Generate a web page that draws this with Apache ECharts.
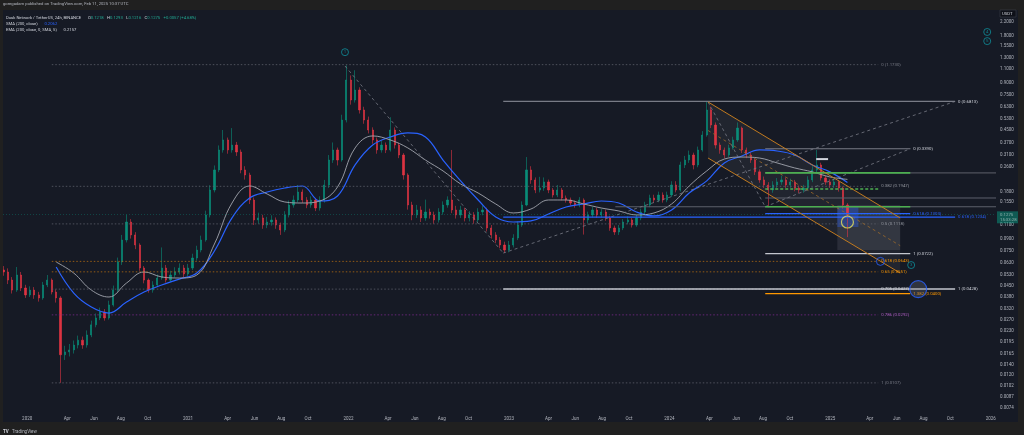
<!DOCTYPE html>
<html>
<head>
<meta charset="utf-8">
<script src="https://cdn.jsdelivr.net/npm/echarts@6.0.0/dist/echarts.min.js"></script>
<style>
html,body{margin:0;padding:0;background:#202020;overflow:hidden;}
#chart{width:1024px;height:435px;}
</style>
</head>
<body>
<div id="chart"></div>
<script>
// ---------------- DATA ----------------
const candleStart = '2019-11-08';
const candleStepDays = 10;
const opens = [
0.0566,0.0550,0.0488,0.0421,0.0526,0.0434,0.0392,0.0421,0.0392,0.0375,
0.0454,0.0488,0.0409,0.0375,0.0162,0.0169,0.0174,0.0187,0.0201,0.0187,
0.0217,0.0252,0.0279,0.0305,0.0279,0.0338,0.0421,0.0637,0.0882,0.1150,
0.0950,0.0819,0.0583,0.0488,0.0421,0.0454,0.0503,0.0583,0.0488,0.0526,
0.0550,0.0583,0.0534,0.0583,0.0676,0.0760,0.0882,0.1276,0.1844,0.248,
0.333,0.386,0.333,0.358,0.323,0.248,0.230,0.1591,0.1185,0.1221,
0.1100,0.1150,0.1185,0.1100,0.1022,0.1276,0.1478,0.1591,0.1790,0.1591,
0.1478,0.1591,0.1414,0.1591,0.1986,0.287,0.333,0.287,0.518,0.935,
0.696,0.807,0.601,0.518,0.447,0.386,0.333,0.358,0.333,0.447,
0.358,0.309,0.230,0.1478,0.1276,0.1373,0.1221,0.1333,0.1276,0.1185,
0.1333,0.1478,0.1591,0.1373,0.1276,0.1373,0.1221,0.1276,0.1185,0.1333,
0.1373,0.1053,0.0950,0.0882,0.0819,0.0760,0.0819,0.0908,0.1100,0.1478,
0.248,0.214,0.1844,0.1899,0.2078,0.1844,0.1713,0.1844,0.1639,0.1591,
0.1522,0.1478,0.1591,0.1185,0.1276,0.1373,0.1276,0.1333,0.1221,0.1053,
0.0992,0.1053,0.1150,0.1185,0.1100,0.1221,0.1333,0.1478,0.1639,0.1591,
0.1713,0.1591,0.1713,0.1986,0.1844,0.267,0.287,0.309,0.267,0.333,
0.415,0.601,0.481,0.358,0.333,0.309,0.343,0.386,0.460,0.333,
0.309,0.287,0.241,0.214,0.1986,0.1844,0.1986,0.2078,0.214,0.1986,
0.2078,0.1899,0.1844,0.1899,0.214,0.248,0.267,0.2204,0.2078,0.1986,
0.2078,0.1899,0.1478];
const closes = [
0.0550,0.0488,0.0421,0.0526,0.0434,0.0392,0.0421,0.0392,0.0375,0.0454,
0.0488,0.0409,0.0375,0.0162,0.0169,0.0174,0.0187,0.0201,0.0187,0.0217,
0.0252,0.0279,0.0305,0.0279,0.0338,0.0421,0.0637,0.0882,0.1150,0.0950,
0.0819,0.0583,0.0488,0.0421,0.0454,0.0503,0.0583,0.0488,0.0526,0.0550,
0.0583,0.0534,0.0583,0.0676,0.0760,0.0882,0.1276,0.1844,0.248,0.333,
0.386,0.333,0.358,0.323,0.248,0.230,0.1591,0.1185,0.1221,0.1100,
0.1150,0.1185,0.1100,0.1022,0.1276,0.1478,0.1591,0.1790,0.1591,0.1478,
0.1591,0.1414,0.1591,0.1986,0.287,0.333,0.287,0.518,0.935,0.696,
0.807,0.601,0.518,0.447,0.386,0.333,0.358,0.333,0.447,0.358,
0.309,0.230,0.1478,0.1276,0.1373,0.1221,0.1333,0.1276,0.1185,0.1333,
0.1478,0.1591,0.1373,0.1276,0.1373,0.1221,0.1276,0.1185,0.1333,0.1373,
0.1053,0.0950,0.0882,0.0819,0.0760,0.0819,0.0908,0.1100,0.1478,0.248,
0.214,0.1844,0.1899,0.2078,0.1844,0.1713,0.1844,0.1639,0.1591,0.1522,
0.1478,0.1591,0.1185,0.1276,0.1373,0.1276,0.1333,0.1221,0.1053,0.0992,
0.1053,0.1150,0.1185,0.1100,0.1221,0.1333,0.1478,0.1639,0.1591,0.1713,
0.1591,0.1713,0.1986,0.1844,0.267,0.287,0.309,0.267,0.333,0.415,
0.601,0.481,0.358,0.333,0.309,0.343,0.386,0.460,0.333,0.309,
0.287,0.241,0.214,0.1986,0.1844,0.1986,0.2078,0.214,0.1986,0.2078,
0.1899,0.1844,0.1899,0.214,0.248,0.267,0.2204,0.2078,0.1986,0.2078,
0.1899,0.1478,0.1275];
const highs = [
0.0600,0.0580,0.0510,0.0592,0.0550,0.0455,0.0445,0.0440,0.0410,0.0475,
0.0526,0.0500,0.0425,0.0385,0.0185,0.0190,0.0200,0.0215,0.0212,0.0232,
0.0268,0.0298,0.0325,0.0318,0.0360,0.0450,0.0680,0.0950,0.1280,0.1200,
0.0990,0.0840,0.0600,0.0500,0.0480,0.0530,0.0790,0.0610,0.0560,0.0590,
0.0625,0.0610,0.0620,0.0720,0.0810,0.0940,0.1360,0.1980,0.265,0.356,
0.447,0.400,0.460,0.375,0.335,0.262,0.238,0.165,0.132,0.128,
0.124,0.127,0.123,0.114,0.135,0.158,0.170,0.1986,0.186,0.166,
0.168,0.164,0.168,0.214,0.309,0.372,0.345,0.560,1.16,1.00,
1.08,0.840,0.630,0.545,0.465,0.400,0.380,0.372,0.540,0.465,
0.370,0.318,0.236,0.155,0.148,0.145,0.160,0.140,0.134,0.141,
0.156,0.168,0.333,0.146,0.146,0.142,0.135,0.133,0.141,0.147,
0.142,0.110,0.099,0.092,0.086,0.087,0.096,0.116,0.156,0.300,
0.262,0.222,0.224,0.222,0.215,0.190,0.1986,0.190,0.170,0.165,
0.158,0.166,0.163,0.134,0.144,0.142,0.139,0.138,0.126,0.109,
0.110,0.120,0.125,0.122,0.128,0.140,0.155,0.172,0.172,0.180,
0.178,0.180,0.210,0.210,0.280,0.305,0.330,0.320,0.350,0.440,
0.681,0.630,0.500,0.372,0.345,0.360,0.405,0.500,0.470,0.345,
0.322,0.295,0.250,0.225,0.207,0.210,0.220,0.228,0.222,0.218,
0.214,0.197,0.199,0.226,0.262,0.333,0.276,0.228,0.216,0.218,
0.214,0.194,0.152];
const lows = [
0.0520,0.0460,0.0400,0.0410,0.0415,0.0375,0.0380,0.0370,0.0355,0.0365,
0.0440,0.0395,0.0350,0.0107,0.0150,0.0158,0.0165,0.0178,0.0177,0.0180,
0.0210,0.0243,0.0270,0.0268,0.0272,0.0330,0.0410,0.0610,0.0850,0.0900,
0.0770,0.0560,0.0465,0.0405,0.0405,0.0440,0.0490,0.0470,0.0475,0.0505,
0.0530,0.0510,0.0515,0.0565,0.0650,0.0735,0.0860,0.1230,0.178,0.240,
0.320,0.315,0.320,0.305,0.236,0.215,0.150,0.110,0.112,0.104,
0.105,0.109,0.104,0.095,0.099,0.123,0.142,0.153,0.152,0.141,
0.142,0.135,0.136,0.153,0.190,0.275,0.265,0.280,0.500,0.650,
0.670,0.570,0.490,0.425,0.365,0.315,0.320,0.318,0.325,0.340,
0.295,0.215,0.138,0.118,0.122,0.115,0.117,0.121,0.112,0.114,
0.128,0.142,0.131,0.121,0.122,0.116,0.116,0.112,0.114,0.127,
0.100,0.090,0.084,0.078,0.0727,0.0735,0.079,0.088,0.107,0.145,
0.202,0.176,0.178,0.182,0.176,0.165,0.166,0.158,0.153,0.147,
0.142,0.143,0.0955,0.113,0.123,0.122,0.123,0.117,0.101,0.095,
0.095,0.102,0.111,0.106,0.107,0.118,0.129,0.143,0.153,0.154,
0.153,0.154,0.166,0.178,0.180,0.255,0.275,0.250,0.258,0.325,
0.405,0.460,0.340,0.315,0.295,0.300,0.335,0.375,0.318,0.295,
0.275,0.230,0.205,0.190,0.143,0.177,0.190,0.199,0.190,0.190,
0.181,0.176,0.177,0.183,0.207,0.240,0.212,0.199,0.190,0.190,
0.180,0.140,0.0920];

// moving averages sampled on every 4th candle
const maEveryNthCandle = 4;
const sma200 = [null,null,null,0.0592,0.0403,0.0328,0.0300,0.0353,0.0409,0.0454,
 0.0495,0.0541,0.0749,0.1221,0.1639,0.1790,0.1899,0.1956,0.1568,0.1688,
 0.267,0.358,0.403,0.428,0.403,0.287,0.2109,0.1591,0.1239,0.1150,
 0.1168,0.1295,0.1435,0.1500,0.1568,0.1522,0.1333,0.1257,0.1373,0.1764,
 0.2109,0.275,0.3045,0.333,0.328,0.309,0.267,0.241,0.2062];
const ema200 = [null,null,null,0.0637,0.0541,0.0421,0.0380,0.0467,0.0550,0.0511,
 0.0503,0.0526,0.0831,0.1522,0.1956,0.1738,0.1545,0.1522,0.1568,0.1928,
 0.343,0.4095,0.386,0.343,0.287,0.2444,0.2016,0.1764,0.1500,0.1314,
 0.1393,0.1591,0.1591,0.1500,0.1414,0.1353,0.1276,0.1314,0.1500,0.1956,
 0.2444,0.2913,0.2999,0.2956,0.275,0.2554,0.241,0.2237,0.2157];

const lastPrice = 0.1275, lastSma = 0.2062, lastEma = 0.2157;

// axes
const priceTicks = [2.2,1.8,1.55,1.3,1.1,0.9,0.75,0.63,0.53,0.45,0.37,0.31,0.26,0.18,0.155,
  0.11,0.09,0.075,0.063,0.053,0.045,0.038,0.032,0.027,0.023,0.0195,0.0165,0.014,0.012,0.0102,0.0087,0.0074];
const timeTickDates = ['2020-01-01','2020-04-01','2020-06-01','2020-08-01','2020-10-01',
  '2021-01-01','2021-04-01','2021-06-01','2021-08-01','2021-10-01',
  '2022-01-01','2022-04-01','2022-06-01','2022-08-01','2022-10-01',
  '2023-01-01','2023-04-01','2023-06-01','2023-08-01','2023-10-01',
  '2024-01-01','2024-04-01','2024-06-01','2024-08-01','2024-10-01',
  '2025-01-01','2025-04-01','2025-06-01','2025-08-01','2025-10-01','2026-01-01'];
const timeTickLabels = ['2020','Apr','Jun','Aug','Oct','2021','Apr','Jun','Aug','Oct',
  '2022','Apr','Jun','Aug','Oct','2023','Apr','Jun','Aug','Oct',
  '2024','Apr','Jun','Aug','Oct','2025','Apr','Jun','Aug','Oct','2026'];
const axisStart = '2019-11-07', axisEnd = '2026-01-13';

// drawing: fib retracement (dotted)
const retrFrom = '2020-02-26', retrTo = '2025-04-20';
const retrLevels = [1.1730, 0.1947, 0.1118, 0.0643, 0.0551, 0.0427, 0.0292, 0.0107];
const retrLabels = ['0 (1.1730)','0.382 (0.1947)','0.5 (0.1118)','0.618 (0.0643)','0.65 (0.0551)','0.705 (0.0427)','0.786 (0.0292)','1 (0.0107)'];
// drawing: trend-based fib extension A
const extAPath = [['2021-12-24',1.15],['2022-12-19',0.0727],['2025-10-12',0.6813]];
const extAFrom = '2022-12-19', extATo = '2025-10-12';
const extALevels = [0.6813, 0.1234, 0.0428];
const extALabels = ['0 (0.6813)','0.618 (0.1234)','1 (0.0428)'];
// drawing: trend-based fib extension B
const extBPath = [['2024-03-29',0.676],['2024-08-06',0.1440],['2025-07-02',0.3390]];
const extBFrom = '2024-08-06', extBTo = '2025-07-02';
const extBLevels = [0.3390, 0.1303, 0.0722, 0.0400];
const extBLabels = ['0 (0.3390)','0.618 (0.1303)','1 (0.0722)','1.382 (0.0400)'];
// horizontal rays
const rayStarts = ['2024-08-06','2024-08-06','2023-08-31'];
const rayLevels = [0.2373, 0.1639, 0.1440];
// green range
const rangeFrom = '2024-08-06', rangeTo = '2025-07-02', rangeMidTo = '2025-04-20';
const rangeLevels = [0.2373, 0.1440];
const rangeMid = 0.1871;
// parallel channel
const channelUpper = [['2024-03-29',0.676],['2025-06-09',0.1221]];
const channelMid = [['2024-03-29',0.4437],['2025-06-09',0.0811]];
const channelLower = [['2024-03-29',0.2956],['2025-06-09',0.0541]];
// boxes
const projBox = [['2025-01-17',0.1478],['2025-06-09',0.0760]];
const focusBox = [['2025-01-17',0.1439],['2025-03-06',0.1068]];
const smallMark = [['2024-11-30',0.291],['2024-12-27',0.291]];
// rings and numbered markers
const ringYellow = ['2025-02-09',0.115];
const ringBlueSmall = ['2025-04-25',0.0643];
const ringBlueBig = ['2025-07-20',0.0427];
const waveMarks = [['2021-12-24',1.41,'1'],['2025-07-04',0.0609,'3'],['2025-12-24',1.90,'4'],['2025-12-24',1.66,'5']];

// ---------------- BUILD ----------------
const DAY = 86400000;
const T = s => Date.UTC(+s.slice(0,4), +s.slice(5,7)-1, +s.slice(8,10));
const L = v => Math.log10(v);
const P = (d, v) => [T(d), L(v)];
const t0 = T(candleStart);
const candleData = closes.map((c, i) => [t0 + i*candleStepDays*DAY, L(opens[i]), L(c), L(lows[i]), L(highs[i])]);
const maData = arr => arr.map((v, k) => v == null ? null : [t0 + k*maEveryNthCandle*candleStepDays*DAY, L(v)]).filter(x => x);
const tickLabelMap = {};
timeTickDates.forEach((d, i) => tickLabelMap[T(d)] = timeTickLabels[i]);

const FONT = 'Roboto, "Liberation Sans", sans-serif';
const series = [];
function seg(points, style, endText, endColor, z) {
  const s = {type:'line', data: points.map(p => P(p[0], p[1])), symbol:'none', silent:true,
    animation:false, z: z || 4, lineStyle: style};
  if (endText) s.endLabel = {show:true, formatter:endText, color:endColor, fontSize:4.3, fontFamily:FONT, distance:3};
  series.push(s);
}

// candles
series.push({type:'candlestick', data:candleData, barWidth:1.7, z:2, silent:true, animation:false,
  itemStyle:{color:'#089981', color0:'#f23645', borderColor:'#089981', borderColor0:'#f23645', borderWidth:0.6, opacity:0.9},
  markLine:{silent:true, symbol:['none','none'], animation:false,
    data:[{yAxis:L(lastPrice), lineStyle:{color:'#089981', type:[1,2], width:0.7, opacity:0.5},
      label:{show:true, position:'end', distance:1, formatter:'0.1275\n15:33:28', color:'#fff', backgroundColor:'#089981',
        fontSize:4.3, lineHeight:5, fontFamily:FONT, padding:[1,4,1,3], offset:[0,3]}}]}});
// MAs
series.push({type:'line', data:maData(sma200), smooth:0.4, symbol:'none', silent:true, animation:false, z:3,
  lineStyle:{color:'#2962ff', width:1.2},
  markLine:{silent:true, symbol:['none','none'], animation:false,
    data:[{yAxis:L(lastSma), lineStyle:{opacity:0}, label:{show:true, position:'end', distance:1, formatter:'0.2062',
      color:'#fff', backgroundColor:'#2962ff', fontSize:4.3, fontFamily:FONT, padding:[1,5,1,3], offset:[0,2]}}]}});
series.push({type:'line', data:maData(ema200), smooth:0.4, symbol:'none', silent:true, animation:false, z:3,
  lineStyle:{color:'#a3a6af', width:0.9},
  markLine:{silent:true, symbol:['none','none'], animation:false,
    data:[{yAxis:L(lastEma), lineStyle:{opacity:0}, label:{show:true, position:'end', distance:1, formatter:'0.2157',
      color:'#131722', backgroundColor:'#d1d4e6', fontSize:4.3, fontFamily:FONT, padding:[1,5,1,3], offset:[0,-2]}}]}});

// channel shading + boxes
series.push({type:'custom', silent:true, animation:false, z:1, data:[0],
  renderItem:(params, api) => {
    const poly = [channelUpper[0], channelUpper[1], channelLower[1], channelLower[0]].map(p => api.coord(P(p[0], p[1])));
    const pb = projBox.map(p => api.coord(P(p[0], p[1])));
    const fb = focusBox.map(p => api.coord(P(p[0], p[1])));
    return {type:'group', children:[
      {type:'polygon', shape:{points:poly}, style:{fill:'rgba(178,181,190,0.07)'}},
      {type:'rect', shape:{x:pb[0][0], y:pb[0][1], width:pb[1][0]-pb[0][0], height:pb[1][1]-pb[0][1]}, style:{fill:'rgba(178,181,190,0.13)'}},
      {type:'rect', shape:{x:fb[0][0], y:fb[0][1], width:fb[1][0]-fb[0][0], height:fb[1][1]-fb[0][1]}, style:{fill:'rgba(41,98,255,0.35)'}}
    ]};
  }});

// fib retracement dotted
const retrColors = ['#5d606b','#5d606b','#5d606b','#b36b12','#b36b12','#5d606b','#7b2a8c','#5d606b'];
const retrText = ['#787b86','#9598a1','#9598a1','#ff9800','#ff9800','#d1d4dc','#b35fc7','#787b86'];
retrLevels.forEach((v, i) => seg([[retrFrom, v],[retrTo, v]], {color:retrColors[i], width:0.8, type:[1.5,2]}, retrLabels[i], retrText[i]));
// ext A
seg(extAPath.slice(0,2), {color:'#787b86', width:0.8, type:[3,3]});
seg(extAPath.slice(1,3), {color:'#787b86', width:0.8, type:[3,3]});
const extAColors = ['#787b86','#2962ff','#c3c6ce'];
const extAWidths = [1.2, 1.2, 1.6];
extALevels.forEach((v, i) => seg([[extAFrom, v],[extATo, v]], {color:extAColors[i], width:extAWidths[i]}, extALabels[i], i===1?'#2962ff':'#d1d4dc'));
// ext B
seg(extBPath.slice(0,2), {color:'#787b86', width:0.8, type:[3,3]});
seg(extBPath.slice(1,3), {color:'#787b86', width:0.8, type:[3,3]});
const extBColors = ['#787b86','#2962ff','#c3c6ce','#ff9800'];
extBLevels.forEach((v, i) => seg([[extBFrom, v],[extBTo, v]], {color:extBColors[i], width:1.2}, extBLabels[i], i===1?'#2962ff':(i===3?'#ff9800':'#d1d4dc')));
// rays
rayLevels.forEach((v, i) => seg([[rayStarts[i], v],[axisEnd, v]], {color:'#5d606b', width:1}, null, null, 3));
// green range
rangeLevels.forEach(v => seg([[rangeFrom, v],[rangeTo, v]], {color:'#4caf50', width:1.6}));
seg([[rangeFrom, rangeMid],[rangeMidTo, rangeMid]], {color:'#4caf50', width:1.5, type:[3,2]});
// channel lines
seg(channelUpper, {color:'#c17a1f', width:1});
seg(channelLower, {color:'#c17a1f', width:1});
seg(channelMid, {color:'#9c6a2a', width:0.8, type:[3,3]});
seg(smallMark, {color:'#d1d4dc', width:2});
// rings
series.push({type:'scatter', silent:true, animation:false, z:6, data:[P(ringYellow[0], ringYellow[1])], symbolSize:12,
  itemStyle:{color:'rgba(0,0,0,0)', borderColor:'#e8e35a', borderWidth:1.2}});
series.push({type:'scatter', silent:true, animation:false, z:6, data:[P(ringBlueSmall[0], ringBlueSmall[1])], symbolSize:8,
  itemStyle:{color:'rgba(0,0,0,0)', borderColor:'#2962ff', borderWidth:1}});
series.push({type:'scatter', silent:true, animation:false, z:6, data:[P(ringBlueBig[0], ringBlueBig[1])], symbolSize:17,
  itemStyle:{color:'rgba(120,123,134,0.35)', borderColor:'#2962ff', borderWidth:1.2}});
series.push({type:'scatter', silent:true, animation:false, z:6, symbolSize:7,
  data: waveMarks.map(m => ({value:P(m[0], m[1]), label:{show:true, formatter:m[2]}})),
  itemStyle:{color:'rgba(0,0,0,0)', borderColor:'#0e9aa7', borderWidth:0.9},
  label:{position:'inside', color:'#0e9aa7', fontSize:4.3, fontFamily:FONT}});

const option = {
  backgroundColor:'#161a25',
  animation:false,
  grid:{left:3, right:28, top:10, bottom:23},
  xAxis:{type:'value', min:T(axisStart), max:T(axisEnd),
    axisLine:{show:false}, axisTick:{show:false}, splitLine:{show:false},
    axisLabel:{customValues:timeTickDates.map(T), formatter:v => tickLabelMap[v] || '', color:'#b2b5be', fontSize:4.5, fontFamily:FONT, margin:4}},
  yAxis:{type:'value', position:'right', min:-2.1573, max:0.4196,
    axisLine:{show:false}, axisTick:{show:false}, splitLine:{show:false},
    axisLabel:{customValues:priceTicks.map(L), formatter:v => Math.pow(10, v).toFixed(4), color:'#b2b5be', fontSize:4.5, fontFamily:FONT, margin:4}},
  series: series,
  graphic:[
    {type:'rect', shape:{x:0,y:0,width:1024,height:10}, style:{fill:'#202020'}, z:100},
    {type:'rect', shape:{x:0,y:422,width:1024,height:13}, style:{fill:'#202020'}, z:100},
    {type:'rect', shape:{x:0,y:0,width:3,height:435}, style:{fill:'#202020'}, z:100},
    {type:'rect', shape:{x:1018,y:0,width:6,height:435}, style:{fill:'#202020'}, z:100},
    {type:'text', left:3, top:2, z:101, style:{text:'goregadam published on TradingView.com, Feb 11, 2025 10:37 UTC', fill:'#b2b5be', fontSize:4.2, fontFamily:FONT}},
    {type:'text', left:6, top:12, z:101, style:{
      text:'{a|Dusk Network / TetherUS, 24h, BINANCE}  {a|O}{g|0.1218} {a|H}{g|0.1293} {a|L}{g|0.1216} {a|C}{g|0.1275} {g|+0.0057 (+4.68%)}',
      rich:{a:{fill:'#d1d4dc', fontSize:4.2, fontFamily:FONT}, g:{fill:'#22ab94', fontSize:4.2, fontFamily:FONT}}}},
    {type:'text', left:6, top:18, z:101, style:{text:'{a|SMA (200, close)}  {b|0.2062}',
      rich:{a:{fill:'#d1d4dc', fontSize:4.2, fontFamily:FONT}, b:{fill:'#2962ff', fontSize:4.2, fontFamily:FONT}}}},
    {type:'text', left:6, top:24, z:101, style:{text:'{a|EMA (200, close, 0, SMA, 5)}  {b|0.2157}',
      rich:{a:{fill:'#d1d4dc', fontSize:4.2, fontFamily:FONT}, b:{fill:'#d1d4dc', fontSize:4.2, fontFamily:FONT}}}},
    {type:'rect', shape:{x:1000,y:10,width:16,height:7}, style:{fill:'#0e1018', stroke:'#434651', lineWidth:0.5}, z:101},
    {type:'text', left:1002, top:11.5, z:102, style:{text:'USDT', fill:'#d1d4dc', fontSize:4.2, fontFamily:FONT}},
    {type:'text', left:3, top:426, z:101, style:{text:'{b|TV} {a|TradingView}',
      rich:{a:{fill:'#b2b5be', fontSize:4.5, fontFamily:FONT}, b:{fill:'#d1d4dc', fontSize:4.5, fontWeight:'bold', fontFamily:FONT}}}}
  ]
};
const chart = echarts.init(document.getElementById('chart'), null, {renderer:'canvas'});
chart.setOption(option);
</script>
</body>
</html>
